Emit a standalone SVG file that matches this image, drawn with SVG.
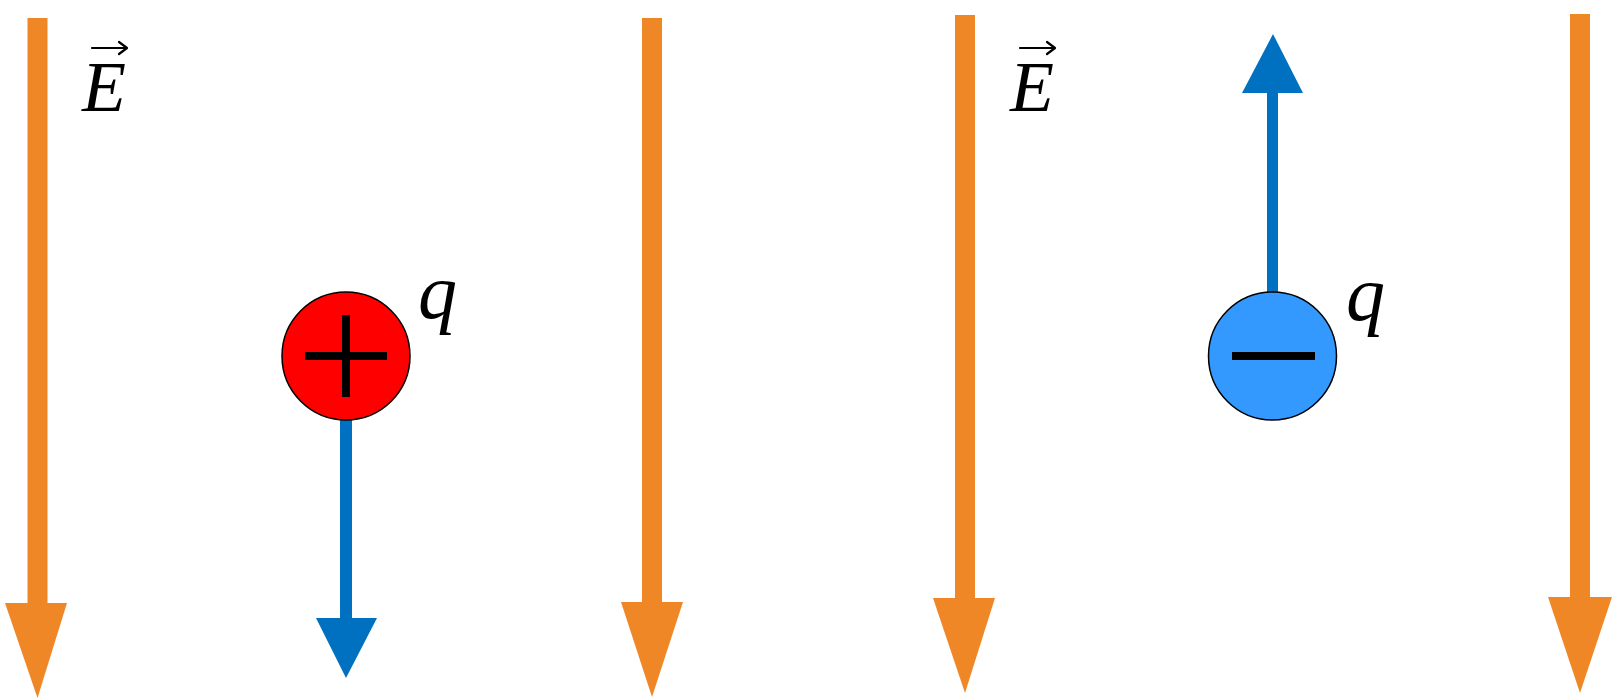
<svg xmlns="http://www.w3.org/2000/svg" width="1619" height="700" viewBox="0 0 1619 700">
  <style>
    .field { fill: #EF8727; }
    .force { fill: #0070C0; }
    .lbl { font-family: "Liberation Serif", "Times New Roman", serif; font-style: italic; font-size: 72px; fill: #000; }
    .q { font-size: 78px; }
    .vec { fill: none; stroke: #000; stroke-width: 2.2; stroke-linecap: round; stroke-linejoin: round; }
    .charge { stroke: #000; stroke-width: 1.5; }
    .sign { fill: #000; }
  </style>
  <rect width="1619" height="700" fill="#fff"/>
  <g id="connectors">
    <g id="field-1">
      <rect class="field" x="27.5" y="18" width="20" height="590"/>
      <polygon class="field" points="5,603 67,603 37.5,698"/>
    </g>
    <g id="field-2">
      <rect class="field" x="642" y="18" width="20" height="590"/>
      <polygon class="field" points="621,602 683,602 652,697"/>
    </g>
    <g id="field-3">
      <rect class="field" x="955" y="15" width="20" height="588"/>
      <polygon class="field" points="933,598 995,598 965,693"/>
    </g>
    <g id="field-4">
      <rect class="field" x="1570" y="14" width="20" height="588"/>
      <polygon class="field" points="1548,597 1612,597 1580,693"/>
    </g>
    <g id="force-positive">
      <rect class="force" x="340" y="418" width="12" height="204"/>
      <polygon class="force" points="316,618 377,618 346,678"/>
    </g>
    <g id="force-negative">
      <rect class="force" x="1267" y="88" width="11" height="206"/>
      <polygon class="force" points="1242,93 1303,93 1273,34"/>
    </g>
  </g>
  <g id="label-E-1">
    <text class="lbl" x="82" y="111">E</text>
    <path class="vec" d="M92,48 H127 M119,42 L127,48 L119,54"/>
  </g>
  <g id="label-E-2">
    <text class="lbl" x="1010" y="111">E</text>
    <path class="vec" d="M1020,48 H1055 M1047,42 L1055,48 L1047,54"/>
  </g>
  <g id="charge-positive">
    <path class="charge" d="M282,356 A64,64 0 1,1 410,356 A64,64 0 1,1 282,356 Z" fill="#FF0000"/>
    <rect class="sign" x="305" y="352" width="82" height="8"/>
    <rect class="sign" x="342" y="315" width="8" height="82"/>
  </g>
  <g id="charge-negative">
    <path class="charge" d="M1208.5,356 A64,64 0 1,1 1336.5,356 A64,64 0 1,1 1208.5,356 Z" fill="#3399FF"/>
    <rect class="sign" x="1232" y="352" width="83" height="8"/>
  </g>
  <g id="label-q-1">
    <text class="lbl q" x="418" y="318">q</text>
  </g>
  <g id="label-q-2">
    <text class="lbl q" x="1346" y="320">q</text>
  </g>
</svg>
